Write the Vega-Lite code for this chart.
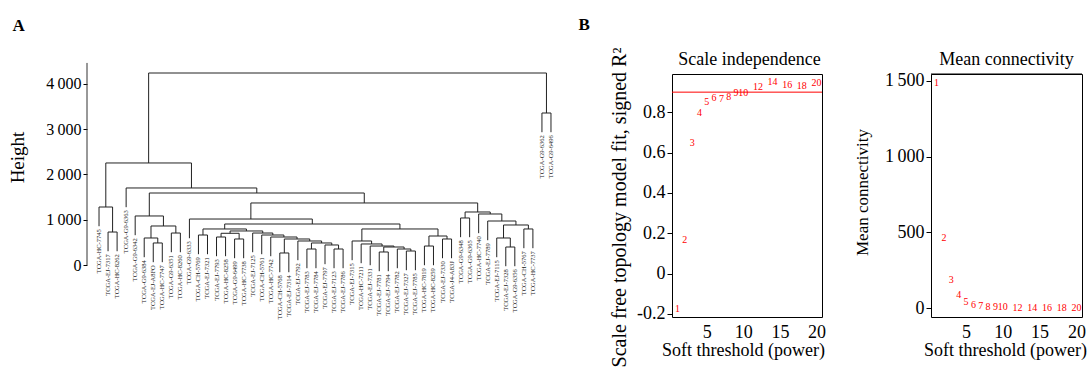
{
  "$schema": "https://vega.github.io/schema/vega-lite/v6.json",
  "padding": {"left": 8, "top": 15, "right": 0, "bottom": 0},
  "background": "white",
  "bounds": "flush",
  "spacing": 109,
  "datasets": {
    "nodes": [
      {"l":2,"lh":304,"r":3,"rh":304,"h":728},
      {"l":1,"lh":856,"r":2.5,"rh":728,"h":1280},
      {"l":7,"lh":62,"r":8,"rh":62,"h":486},
      {"l":6,"lh":172,"r":7.5,"rh":486,"h":596},
      {"l":9,"lh":282,"r":10,"rh":282,"h":706},
      {"l":6.75,"lh":596,"r":9.5,"rh":706,"h":861},
      {"l":5,"lh":658,"r":8.125,"rh":861,"h":1082},
      {"l":12,"lh":238,"r":13,"rh":238,"h":662},
      {"l":14,"lh":194,"r":15,"rh":194,"h":618},
      {"l":16,"lh":150,"r":17,"rh":150,"h":574},
      {"l":14.5,"lh":618,"r":16.5,"rh":574,"h":700},
      {"l":21,"lh":-159,"r":22,"rh":-159,"h":265},
      {"l":24,"lh":-71,"r":25,"rh":-71,"h":353},
      {"l":27,"lh":-71,"r":28,"rh":-71,"h":353},
      {"l":26,"lh":18,"r":27.5,"rh":353,"h":442},
      {"l":24.5,"lh":353,"r":26.75,"rh":442,"h":486},
      {"l":23,"lh":106,"r":25.625,"rh":486,"h":530},
      {"l":21.5,"lh":265,"r":24.3125,"rh":530,"h":574},
      {"l":20,"lh":194,"r":22.906,"rh":574,"h":618},
      {"l":19,"lh":238,"r":21.453,"rh":618,"h":662},
      {"l":18,"lh":282,"r":20.227,"rh":662,"h":706},
      {"l":15.5,"lh":700,"r":19.113,"rh":706,"h":751},
      {"l":12.5,"lh":662,"r":17.307,"rh":751,"h":795},
      {"l":32,"lh":-137,"r":33,"rh":-137,"h":287},
      {"l":35,"lh":-115,"r":36,"rh":-115,"h":309},
      {"l":34,"lh":-71,"r":35.5,"rh":309,"h":353},
      {"l":32.5,"lh":287,"r":34.75,"rh":353,"h":397},
      {"l":31,"lh":-5,"r":33.625,"rh":397,"h":419},
      {"l":30,"lh":40,"r":32.313,"rh":419,"h":464},
      {"l":29,"lh":106,"r":31.156,"rh":464,"h":530},
      {"l":37,"lh":-5,"r":38,"rh":-5,"h":419},
      {"l":39,"lh":150,"r":40,"rh":150,"h":574},
      {"l":37.5,"lh":419,"r":39.5,"rh":574,"h":640},
      {"l":30.078,"lh":530,"r":38.5,"rh":640,"h":795},
      {"l":14.903,"lh":795,"r":34.289,"rh":795,"h":905},
      {"l":11,"lh":591,"r":24.596,"rh":905,"h":1015},
      {"l":41,"lh":614,"r":42,"rh":614,"h":1038},
      {"l":46,"lh":-27,"r":47,"rh":-27,"h":397},
      {"l":45,"lh":172,"r":46.5,"rh":397,"h":596},
      {"l":48,"lh":371,"r":49,"rh":371,"h":795},
      {"l":45.75,"lh":596,"r":48.5,"rh":795,"h":883},
      {"l":44,"lh":547,"r":47.125,"rh":883,"h":971},
      {"l":43,"lh":702,"r":45.563,"rh":971,"h":1126},
      {"l":41.5,"lh":1038,"r":44.281,"rh":1126,"h":1170},
      {"l":17.798,"lh":1015,"r":42.891,"rh":1170,"h":1369},
      {"l":6.563,"lh":1082,"r":30.344,"rh":1369,"h":1589},
      {"l":4,"lh":1276,"r":18.453,"rh":1589,"h":1700},
      {"l":1.75,"lh":1280,"r":11.227,"rh":1700,"h":2252},
      {"l":50,"lh":2931,"r":51,"rh":2931,"h":3355},
      {"l":6.488,"lh":2252,"r":50.5,"rh":3355,"h":4238}
    ],
    "leaves": [
      {"leaf":1,"name":"TCGA-HC-7745","b":856},
      {"leaf":2,"name":"TCGA-EJ-7317","b":304},
      {"leaf":3,"name":"TCGA-HC-8262","b":304},
      {"leaf":4,"name":"TCGA-G9-6363","b":1276},
      {"leaf":5,"name":"TCGA-G9-6342","b":658},
      {"leaf":6,"name":"TCGA-G9-6384","b":172},
      {"leaf":7,"name":"TCGA-EJ-A8FO","b":62},
      {"leaf":8,"name":"TCGA-HC-7747","b":62},
      {"leaf":9,"name":"TCGA-G9-6351","b":282},
      {"leaf":10,"name":"TCGA-HC-8260","b":282},
      {"leaf":11,"name":"TCGA-G9-6333","b":591},
      {"leaf":12,"name":"TCGA-CH-5769","b":238},
      {"leaf":13,"name":"TCGA-EJ-7321","b":238},
      {"leaf":14,"name":"TCGA-EJ-7793","b":194},
      {"leaf":15,"name":"TCGA-HC-8258","b":194},
      {"leaf":16,"name":"TCGA-G9-6499","b":150},
      {"leaf":17,"name":"TCGA-HC-7738","b":150},
      {"leaf":18,"name":"TCGA-EJ-7125","b":282},
      {"leaf":19,"name":"TCGA-CH-5761","b":238},
      {"leaf":20,"name":"TCGA-HC-7742","b":194},
      {"leaf":21,"name":"TCGA-CH-5768","b":-159},
      {"leaf":22,"name":"TCGA-EJ-7314","b":-159},
      {"leaf":23,"name":"TCGA-EJ-7792","b":106},
      {"leaf":24,"name":"TCGA-EJ-7783","b":-71},
      {"leaf":25,"name":"TCGA-EJ-7784","b":-71},
      {"leaf":26,"name":"TCGA-EJ-7797","b":18},
      {"leaf":27,"name":"TCGA-EJ-7123","b":-71},
      {"leaf":28,"name":"TCGA-EJ-7786","b":-71},
      {"leaf":29,"name":"TCGA-EJ-7315","b":106},
      {"leaf":30,"name":"TCGA-HC-7211","b":40},
      {"leaf":31,"name":"TCGA-EJ-7331","b":-5},
      {"leaf":32,"name":"TCGA-EJ-7781","b":-137},
      {"leaf":33,"name":"TCGA-EJ-7794","b":-137},
      {"leaf":34,"name":"TCGA-EJ-7782","b":-71},
      {"leaf":35,"name":"TCGA-EJ-7327","b":-115},
      {"leaf":36,"name":"TCGA-EJ-7785","b":-115},
      {"leaf":37,"name":"TCGA-HC-7819","b":-5},
      {"leaf":38,"name":"TCGA-HC-8259","b":-5},
      {"leaf":39,"name":"TCGA-EJ-7330","b":150},
      {"leaf":40,"name":"TCGA-J4-A83J","b":150},
      {"leaf":41,"name":"TCGA-G9-6348","b":614},
      {"leaf":42,"name":"TCGA-G9-6365","b":614},
      {"leaf":43,"name":"TCGA-HC-7740","b":702},
      {"leaf":44,"name":"TCGA-EJ-7789","b":547},
      {"leaf":45,"name":"TCGA-EJ-7115","b":172},
      {"leaf":46,"name":"TCGA-EJ-7328","b":-27},
      {"leaf":47,"name":"TCGA-G9-6356","b":-27},
      {"leaf":48,"name":"TCGA-CH-5767","b":371},
      {"leaf":49,"name":"TCGA-HC-7737","b":371},
      {"leaf":50,"name":"TCGA-G9-6362","b":2931},
      {"leaf":51,"name":"TCGA-G9-6496","b":2931}
    ],
    "sft": [
      {"power":1,"r2":-0.173,"k":1488},
      {"power":2,"r2":0.168,"k":462},
      {"power":3,"r2":0.647,"k":185},
      {"power":4,"r2":0.795,"k":88},
      {"power":5,"r2":0.85,"k":42},
      {"power":6,"r2":0.869,"k":22},
      {"power":7,"r2":0.866,"k":15},
      {"power":8,"r2":0.878,"k":11},
      {"power":9,"r2":0.894,"k":8},
      {"power":10,"r2":0.894,"k":6},
      {"power":12,"r2":0.927,"k":3},
      {"power":14,"r2":0.949,"k":2},
      {"power":16,"r2":0.936,"k":1},
      {"power":18,"r2":0.932,"k":1},
      {"power":20,"r2":0.944,"k":0.5}
    ]
  },
  "hconcat": [
    {
      "width": 476,
      "height": 191,
      "view": {"stroke": null},
      "resolve": {"axis": {"y": "independent"}},
      "layer": [
        {
          "data": {"name": "nodes"},
          "mark": {"type": "rule", "color": "#222", "strokeWidth": 1},
          "encoding": {
            "x": {"field": "l", "type": "quantitative", "scale": {"domain": [-0.33, 52.33], "nice": false, "zero": false},
              "axis": {"orient": "top", "labels": false, "ticks": false, "domain": false, "title": "Sample clustering to detect outliers", "titleFontSize": 18, "titleX": 227, "titleY": -8.7, "titleAlign": "center", "titleBaseline": "alphabetic"}},
            "x2": {"field": "r"},
            "y": {"field": "h", "type": "quantitative", "scale": {"domain": [0, 4216], "nice": false, "zero": false},
              "axis": {"title": "Height", "values": [0, 1000, 2000, 3000, 4000], "labelExpr": "datum.value >= 1000 ? replace(format(datum.value, ','), ',', '\u2009') : datum.label", "labelFontSize": 16, "tickSize": 4, "labelPadding": 2, "titleFontSize": 19, "titleX": -70, "titleY": 83, "titleAlign": "center", "titleBaseline": "middle", "titleAngle": 270}}
          }
        },
        {
          "data": {"name": "nodes"},
          "mark": {"type": "rule", "color": "#222", "strokeWidth": 1},
          "encoding": {
            "x": {"field": "l", "type": "quantitative", "axis": null},
            "y": {"field": "lh", "type": "quantitative",
              "axis": {"orient": "left", "offset": 0, "labels": false, "ticks": false, "domain": false, "title": "A", "titleFontSize": 17, "titleFontWeight": "bold", "titleAngle": 0, "titleX": -75, "titleY": -43.4, "titleAlign": "left", "titleBaseline": "alphabetic"}},
            "y2": {"field": "h"}
          }
        },
        {
          "data": {"name": "nodes"},
          "mark": {"type": "rule", "color": "#222", "strokeWidth": 1},
          "encoding": {
            "x": {"field": "r", "type": "quantitative", "axis": null},
            "y": {"field": "rh", "type": "quantitative", "axis": null},
            "y2": {"field": "h"}
          }
        },
        {
          "data": {"values": [{}]},
          "mark": {"type": "rule", "color": "#333", "strokeWidth": 1},
          "encoding": {
            "x": {"datum": -0.33, "type": "quantitative", "axis": null},
            "y": {"datum": 0, "type": "quantitative", "axis": null},
            "y2": {"datum": 4460}
          }
        },
        {
          "data": {"name": "leaves"},
          "mark": {"type": "text", "angle": 270, "align": "right", "baseline": "middle", "dx": -3, "fontSize": 6.5, "font": "Liberation Serif", "color": "#222"},
          "encoding": {
            "x": {"field": "leaf", "type": "quantitative", "axis": null},
            "y": {"field": "b", "type": "quantitative", "axis": null},
            "text": {"field": "name"}
          }
        }
      ]
    },
    {
      "width": 150,
      "height": 243,
      "resolve": {"axis": {"x": "independent", "y": "independent"}},
      "layer": [
        {
          "data": {"values": [{}]},
          "mark": {"type": "rule", "color": "#ff0000", "strokeWidth": 1},
          "encoding": {
            "x": {"datum": 0.24, "type": "quantitative",
              "axis": {"orient": "top", "labels": false, "ticks": false, "domain": false, "title": "Scale independence", "titleFontSize": 18, "titleX": 77, "titleY": -9.4, "titleAlign": "center", "titleBaseline": "alphabetic"}},
            "x2": {"datum": 20.76},
            "y": {"datum": 0.9, "type": "quantitative",
              "axis": {"orient": "left", "offset": 0, "labels": false, "ticks": false, "domain": false, "title": "B", "titleFontSize": 17, "titleFontWeight": "bold", "titleAngle": 0, "titleX": -94, "titleY": -44.4, "titleAlign": "left", "titleBaseline": "alphabetic"}}
          }
        },
        {
          "data": {"name": "sft"},
          "mark": {"type": "text", "color": "#ff0000", "fontSize": 10, "font": "Liberation Serif"},
          "encoding": {
            "x": {"field": "power", "type": "quantitative", "scale": {"domain": [0.24, 20.76], "nice": false, "zero": false},
              "axis": {"orient": "bottom", "title": "Soft threshold (power)", "values": [5, 10, 15, 20], "ticks": false, "tickSize": 0, "labelPadding": 6, "labelFontSize": 18, "titleFontSize": 18, "titleY": 38, "titleX": 71, "titleBaseline": "alphabetic", "titleAlign": "center"}},
            "y": {"field": "r2", "type": "quantitative", "scale": {"domain": [-0.215, 0.99], "nice": false, "zero": false},
              "axis": {"orient": "left", "title": "Scale free topology model fit, signed R²", "values": [-0.2, 0, 0.2, 0.4, 0.6, 0.8], "labelExpr": "datum.value == 0 ? '0' : (datum.value < 0 ? '-' : '') + format(abs(datum.value), '.1f')", "labelFontSize": 18, "tickSize": 5, "labelPadding": 2, "titleFontSize": 20, "titleX": -53, "titleY": 133, "titleAlign": "center", "titleBaseline": "middle", "titleAngle": 270}},
            "text": {"field": "power"}
          }
        }
      ]
    },
    {
      "width": 151,
      "height": 243,
      "resolve": {"axis": {"x": "independent", "y": "independent"}},
      "layer": [
        {
          "data": {"values": [{}]},
          "mark": {"type": "rule", "color": "black", "strokeWidth": 1},
          "encoding": {
            "x": {"datum": 0.24, "type": "quantitative",
              "axis": {"orient": "top", "labels": false, "ticks": false, "domain": false, "title": "Mean connectivity", "titleFontSize": 18, "titleX": 75, "titleY": -9.4, "titleAlign": "center", "titleBaseline": "alphabetic"}},
            "x2": {"datum": 20.76},
            "y": {"datum": 1545, "type": "quantitative", "axis": null}
          }
        },
        {
          "data": {"name": "sft"},
          "mark": {"type": "text", "color": "#ff0000", "fontSize": 10, "font": "Liberation Serif"},
          "encoding": {
            "x": {"field": "power", "type": "quantitative", "scale": {"domain": [0.24, 20.76], "nice": false, "zero": false},
              "axis": {"orient": "bottom", "title": "Soft threshold (power)", "values": [5, 10, 15, 20], "ticks": false, "tickSize": 0, "labelPadding": 6, "labelFontSize": 18, "titleFontSize": 18, "titleY": 38, "titleX": 74, "titleBaseline": "alphabetic", "titleAlign": "center"}},
            "y": {"field": "k", "type": "quantitative", "scale": {"domain": [-58, 1545], "nice": false, "zero": false},
              "axis": {"orient": "left", "title": "Mean connectivity", "values": [0, 500, 1000, 1500], "labelExpr": "datum.value >= 1000 ? replace(format(datum.value, ','), ',', '\u2009') : datum.label", "labelFontSize": 18, "tickSize": 5, "labelPadding": 2, "titleFontSize": 17, "titleX": -69, "titleY": 118, "titleAlign": "center", "titleBaseline": "middle", "titleAngle": 270}},
            "text": {"field": "power"}
          }
        }
      ]
    }
  ],
  "config": {
    "font": "Liberation Serif",
    "view": {"stroke": "black", "strokeWidth": 1},
    "axis": {"grid": false, "domain": false, "labelColor": "black", "titleColor": "black", "tickColor": "black", "labelFont": "Liberation Serif", "titleFont": "Liberation Serif", "titleFontWeight": "normal"},
    "title": {"font": "Liberation Serif", "fontWeight": "normal", "color": "black"}
  }
}
